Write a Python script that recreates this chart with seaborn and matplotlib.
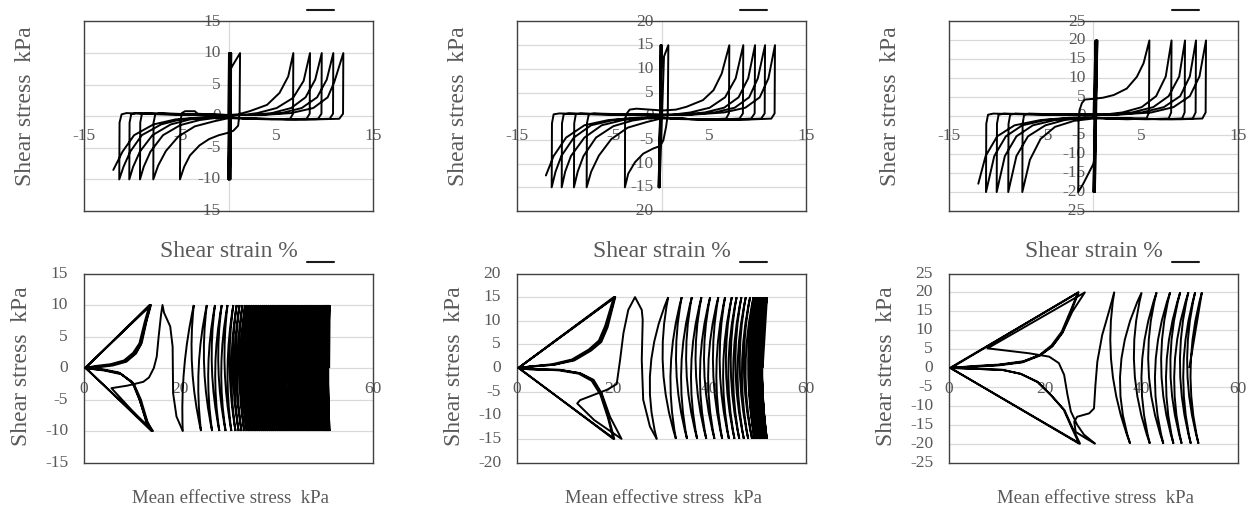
import matplotlib
matplotlib.use("Agg")
import matplotlib.pyplot as plt
import pandas as pd
import seaborn as sns
from matplotlib.path import Path
from matplotlib.patches import PathPatch
from matplotlib.lines import Line2D

# ---------------- values ----------------
amplitudes = [10, 15, 20]          # cyclic shear stress amplitude, kPa
stress_limits = [15, 20, 25]       # +/- range of the shear stress axis
strain_ticks = [-15, -5, 5, 15]
p_ticks = [0, 20, 40, 60]

# shear strain (%) vs shear stress (kPa), in loading order
loop_10 = [(0, 0), (0.05, 10), (0.0, -10), (0.1, 10), (0.02, -10), (0.15, 10), (0.05, -10), (0.2, 10),
           (0.1, -10), (0.25, 10), (0.15, -10), (0.28, 10), (0.2, -10), (0.22, 7.5),
           (1.2, 10), (1.15, 0.5), (1.0, -1.5), (0.5, -2.3), (0.0, -2.6), (-1.0, -3.0), (-2.0, -3.6),
           (-3.0, -4.6), (-4.0, -6.2), (-4.6, -8.0), (-5.04, -10),
           (-5.0, -1.0), (-4.85, 0.5), (-4.5, 0.8), (-3.5, 0.8), (-3.2, 0.4), (-2, 0.3), (0, 0.2), (1.0, 0.3),
           (2.2, 0.8), (4.0, 1.8), (5.3, 3.7), (6.2, 6.3), (6.73, 10),
           (6.7, 0.4), (6.4, -0.4), (4.5, -0.5), (2.0, -0.4), (0, -0.3), (-1.5, -0.8), (-3.5, -1.6),
           (-5.2, -3.2), (-6.5, -5.5), (-7.3, -7.8), (-7.81, -10),
           (-7.78, -1.0), (-7.6, 0.3), (-7.1, 0.5), (-4, 0.3), (-1, 0.2), (1.5, 0.2), (3.0, 0.5), (5.0, 1.3),
           (6.7, 2.9), (7.8, 5.6), (8.46, 10),
           (8.43, 0.4), (8.1, -0.4), (6, -0.5), (3, -0.4), (0, -0.2), (-1, -0.2), (-3, -0.6), (-5, -1.4),
           (-6.8, -3.0), (-8.1, -5.6), (-8.8, -8), (-9.19, -10),
           (-9.16, -1.0), (-9.0, 0.3), (-8.5, 0.5), (-5, 0.3), (0, 0.2), (2.5, 0.2), (4.5, 0.5), (6.5, 1.3),
           (8.0, 3.0), (9.0, 5.8), (9.68, 10),
           (9.65, 0.4), (9.3, -0.4), (7, -0.5), (3, -0.4), (0, -0.2), (-2, -0.2), (-4, -0.5), (-6, -1.3),
           (-7.9, -3.0), (-9.2, -5.6), (-9.9, -8), (-10.3, -10),
           (-10.27, -1.0), (-10.1, 0.3), (-9.6, 0.5), (-6, 0.3), (0, 0.2), (3.0, 0.2), (5.5, 0.5), (7.6, 1.3),
           (9.2, 3.0), (10.2, 5.8), (10.88, 10),
           (10.85, 0.4), (10.5, -0.4), (8, -0.5), (3, -0.4), (0, -0.2), (-2.5, -0.2), (-5, -0.5), (-7, -1.3),
           (-9, -3.0), (-10.2, -5.6), (-10.9, -8), (-11.34, -10),
           (-11.31, -1.0), (-11.1, 0.3), (-10.6, 0.5), (-7, 0.3), (0, 0.2), (3.5, 0.2), (6.5, 0.5), (8.8, 1.3),
           (10.3, 3.0), (11.0, 5.5), (11.92, 10),
           (11.89, 0.4), (11.5, -0.4), (9, -0.5), (3, -0.4), (0, -0.2), (-3, -0.2), (-5.5, -0.5), (-7.8, -1.3),
           (-9.8, -3.0), (-11.0, -5.6), (-11.96, -8.5)]

loop_15 = [(0, 0), (-0.1, 15), (-0.2, -15), (-0.05, 15), (-0.25, -15), (0.0, 15), (-0.3, -15), (0.02, 15),
           (-0.2, -15), (0.26, 12.6),
           (0.71, 15), (0.66, 2.0), (0.64, 0.2), (0.47, -2.3), (0.19, -5.1), (-0.15, -6.3), (-0.85, -6.8),
           (-1.9, -7.9), (-2.75, -9.7), (-3.45, -12.1), (-3.8, -15),
           (-3.78, -0.5), (-3.6, 0.6), (-3.3, 1.4), (-2.6, 1.6), (-0.5, 1.3), (0, 1.2), (1.5, 1.4), (2.6, 2.0),
           (4.3, 3.4), (5.4, 5.5), (6.25, 9.0), (7.04, 15),
           (7.0, 0.6), (6.7, -0.5), (4.5, -0.7), (2, -0.6), (0, -0.45), (-1.5, -1.2), (-3.5, -2.4),
           (-5.2, -4.8), (-6.5, -8.3), (-7.3, -11.7), (-7.77, -15),
           (-7.74, -1.5), (-7.55, 0.4), (-7.0, 0.6), (-4, 0.4), (-1, 0.3), (1.0, 0.3), (3.0, 0.8), (5.0, 1.8),
           (6.6, 4.0), (7.7, 8.0), (8.49, 15),
           (8.45, 0.6), (8.1, -0.5), (6, -0.7), (3, -0.6), (0, -0.3), (-1, -0.3), (-3.0, -0.9), (-5.0, -2.1),
           (-6.8, -4.5), (-8.1, -8.4), (-8.7, -11.7), (-9.09, -15),
           (-9.06, -1.5), (-8.9, 0.4), (-8.4, 0.6), (-5, 0.4), (0, 0.3), (2.0, 0.3), (4.5, 0.8), (6.5, 1.8),
           (8.0, 4.0), (9.0, 8.0), (9.71, 15),
           (9.67, 0.6), (9.3, -0.5), (7, -0.7), (3, -0.6), (0, -0.3), (-1.5, -0.3), (-4.0, -0.8), (-6.2, -1.9),
           (-8.0, -4.5), (-9.4, -8.4), (-10.0, -11.7), (-10.36, -15),
           (-10.33, -1.5), (-10.15, 0.4), (-9.6, 0.6), (-6, 0.4), (0, 0.3), (2.5, 0.3), (5.5, 0.8), (7.6, 1.8),
           (9.1, 4.0), (10.0, 8.0), (10.75, 15),
           (10.71, 0.6), (10.35, -0.5), (8, -0.7), (3, -0.6), (0, -0.3), (-2.0, -0.3), (-5.0, -0.8),
           (-7.3, -1.9), (-9.1, -4.5), (-10.4, -8.4), (-11.0, -11.7), (-11.4, -15),
           (-11.37, -1.5), (-11.2, 0.4), (-10.6, 0.6), (-7, 0.4), (0, 0.3), (3.0, 0.3), (6.5, 0.8), (8.7, 1.8),
           (10.2, 4.0), (11.1, 8.0), (11.78, 15),
           (11.74, 0.6), (11.4, -0.5), (9, -0.7), (3, -0.6), (0, -0.3), (-2.5, -0.3), (-5.5, -0.8),
           (-8.0, -1.9), (-9.9, -4.5), (-11.2, -8.4), (-12.0, -12.5)]

loop_20 = [(0, 0), (0.2, 20), (0.0, -20), (0.3, 20), (0.1, -20), (0.35, 20), (0.05, -20), (0.4, 20),
           (0.15, -20), (0.3, 20),
           (0.2, -8), (0.1, -11), (0, -12.5), (-0.5, -15), (-1.06, -17.8), (-1.58, -20),
           (-1.55, -1), (-1.45, 1.6), (-1.2, 3.5), (-0.9, 4.4), (0, 4.6), (1, 4.9), (2.1, 5.6), (3.45, 7.3),
           (4.5, 10.4), (5.2, 14), (5.8, 20),
           (5.76, 1.0), (5.5, -0.6), (3.5, -0.8), (1, -0.6), (0, -0.6), (-2.0, -1.2), (-4.0, -2.8),
           (-5.5, -6.0), (-6.6, -11.5), (-7.39, -20),
           (-7.36, -2), (-7.2, 0.4), (-6.7, 0.7), (-4, 0.5), (-1, 0.4), (1.0, 0.4), (3.0, 1.0), (5.0, 2.4),
           (6.5, 5.3), (7.5, 10.5), (8.1, 20),
           (8.06, 1.0), (7.8, -0.6), (5.5, -0.8), (2, -0.6), (0, -0.4), (-1, -0.4), (-3.0, -1.0), (-5.0, -2.4),
           (-6.8, -5.3), (-8.0, -10.5), (-8.85, -20),
           (-8.82, -2), (-8.65, 0.4), (-8.1, 0.7), (-5, 0.5), (0, 0.4), (1.5, 0.4), (4.0, 1.0), (6.2, 2.4),
           (7.8, 5.3), (8.9, 10.5), (9.5, 20),
           (9.46, 1.0), (9.2, -0.6), (7, -0.8), (3, -0.6), (0, -0.4), (-1.5, -0.4), (-4.0, -1.0), (-6.3, -2.4),
           (-8.0, -5.3), (-9.2, -10.5), (-10.05, -20),
           (-10.02, -2), (-9.85, 0.4), (-9.3, 0.7), (-6, 0.5), (0, 0.4), (2.0, 0.4), (5.0, 1.0), (7.3, 2.4),
           (9.0, 5.3), (10.0, 10.5), (10.64, 20),
           (10.6, 1.0), (10.3, -0.6), (8, -0.8), (3, -0.6), (0, -0.4), (-2, -0.4), (-5.0, -1.0), (-7.4, -2.4),
           (-9.1, -5.3), (-10.3, -10.5), (-11.16, -20),
           (-11.13, -2), (-10.95, 0.4), (-10.4, 0.7), (-7, 0.5), (0, 0.4), (2.5, 0.4), (6.0, 1.0), (8.3, 2.4),
           (10.0, 5.3), (11.0, 10.5), (11.68, 20),
           (11.64, 1.0), (11.3, -0.6), (9, -0.8), (3, -0.6), (0, -0.4), (-2.5, -0.4), (-5.5, -1.0),
           (-8.2, -2.4), (-10.0, -5.3), (-11.2, -10.5), (-11.96, -17.8)]

# mean effective stress paths: p' at the stress peaks (alternating +amp / -amp)
# and p' where each half cycle crosses zero shear stress
p_start_10 = 50.9
p_peak_10 = [51.0, 50.97, 50.92, 50.89, 50.84, 50.81, 50.76, 50.73, 50.68, 50.65, 50.6, 50.57,
             50.5, 50.47, 50.4, 50.37, 50.3, 50.27, 50.2, 50.17, 50.1, 50.07, 50.0, 49.95,
             49.85, 49.8, 49.7, 49.65, 49.55, 49.5, 49.4, 49.35, 49.25, 49.2, 49.1, 49.05, 48.95, 48.9,
             48.8, 48.73,
             48.6, 48.53, 48.4, 48.33, 48.2, 48.13, 48.0, 47.93, 47.8, 47.73, 47.6, 47.53, 47.4, 47.31,
             47.15, 47.06, 46.9, 46.81, 46.65, 46.56, 46.4, 46.31, 46.15, 46.06, 45.9, 45.8,
             45.6, 45.5, 45.3, 45.2, 45.0, 44.9, 44.7, 44.6, 44.4, 44.3, 44.1, 44.0, 43.8, 43.7,
             43.5, 43.4, 43.2, 43.08,
             42.85, 42.73, 42.5, 42.38, 42.15, 42.03, 41.8, 41.68, 41.45, 41.33, 41.1, 40.98,
             40.75, 40.63, 40.4, 40.26,
             40.0, 39.86, 39.6, 39.46, 39.2, 39.06, 38.8, 38.66, 38.4, 38.26, 38.0, 37.86,
             37.6, 37.46, 37.2, 37.04,
             36.75, 36.59, 36.3, 36.14, 35.85, 35.69, 35.4, 35.24, 34.95, 34.78,
             34.45, 34.28, 33.95, 33.78, 33.45, 33.26,
             32.9, 32.7, 32.3, 32.1, 31.7, 31.45, 31.0, 30.6,
             29.8, 29.4, 28.6, 28.1, 27.2, 26.6, 25.5, 24.3, 22.8, 20.5]
p_zero_10 = [50.69, 50.65, 50.61, 50.57, 50.53, 50.49, 50.45, 50.41, 50.37, 50.33, 50.29, 50.24,
             50.19, 50.14, 50.09, 50.04, 49.99, 49.94, 49.89, 49.84, 49.79, 49.74, 49.68, 49.6,
             49.53, 49.45, 49.38, 49.3, 49.23, 49.15, 49.08, 49.0, 48.93, 48.85, 48.78, 48.7,
             48.63, 48.55, 48.47, 48.37,
             48.12, 48.02, 47.92, 47.82, 47.72, 47.62, 47.52, 47.42, 47.32, 47.22, 47.12, 47.02,
             46.91, 46.78,
             46.51, 46.38, 46.26, 46.13, 46.01, 45.88, 45.76, 45.63, 45.51, 45.38, 45.25, 45.1,
             44.95, 44.8, 44.65, 44.5, 44.35, 44.2, 44.05, 43.9, 43.75, 43.6, 43.45, 43.3,
             43.15, 43.0, 42.85, 42.7, 42.54, 42.37,
             41.99, 41.82, 41.64, 41.47, 41.29, 41.12, 40.94, 40.77, 40.59, 40.42, 40.24, 40.07,
             39.89, 39.72, 39.53, 39.33,
             39.03, 38.83, 38.63, 38.43, 38.23, 38.03, 37.83, 37.63, 37.43, 37.23, 37.03, 36.83,
             36.63, 36.43, 36.22, 35.99,
             35.77, 35.54, 35.32, 35.1, 34.87, 34.65, 34.42, 34.2, 33.97, 33.72,
             33.47, 33.22, 32.97, 32.72, 32.46, 32.18,
             31.8, 31.5, 31.2, 30.9, 30.58, 30.23, 29.8, 29.2,
             28.5, 27.9, 27.25, 26.55, 25.8, 24.95, 23.8, 22.45, 20.8]
p_tail_10 = [(20.5, -10), (19.2, -7.7), (18.5, -4.0), (18.4, 3.4), (17.9, 6.6), (16.6, 8.8), (16.3, 10),
             (16.0, 8.5), (15.5, 5.0), (15.1, 1.8), (14.5, 0.0), (13.5, -1.5), (12.3, -2.2), (9.0, -2.8),
             (5.7, -3.2), (9.8, -6.6), (14.2, -10),
             (13.0, -8.8), (11.6, -5.1), (10.2, -2.4), (7.5, -0.85), (4.0, -0.3), (1.0, -0.1), (0.3, 0.0),
             (13.8, 10), (12.8, 7.1), (11.7, 3.6), (10.5, 2.2), (8.6, 1.1), (5.8, 0.5), (2.5, 0.2), (0.4, 0.0),
             (14.0, -10), (13.2, -8.6), (11.8, -5.0), (10.4, -2.6), (7.8, -1.0), (4.2, -0.4), (1.2, -0.1),
             (0.4, 0.1),
             (13.6, 10), (12.6, 7.3), (11.5, 3.9), (10.2, 2.4), (8.3, 1.2), (5.5, 0.6), (2.2, 0.3), (0.3, 0.0),
             (14.3, -10), (13.0, -8.4), (11.4, -4.8), (10.0, -2.2), (7.2, -0.7), (3.8, -0.2), (0.8, 0.0),
             (0.2, 0.0),
             (13.9, 10), (13.0, 7.5), (12.0, 4.0), (10.8, 2.3), (8.8, 1.0), (6.0, 0.4), (2.8, 0.1), (0.5, -0.1)]

p_start_15 = 51.0
p_peak_15 = [51.9, 51.88, 51.85, 51.83, 51.8, 51.75, 51.7, 51.65, 51.6, 51.55, 51.5, 51.43, 51.35, 51.28,
             51.2, 51.1, 51.0, 50.9, 50.8, 50.7, 50.6, 50.5, 50.4, 50.27, 50.1, 49.97, 49.8, 49.64,
             49.45, 49.29, 49.1, 48.8, 48.4, 48.0, 47.5, 47.1, 46.6, 46.15, 45.6, 45.15, 44.6, 44.0,
             43.2, 42.6, 41.8, 41.0, 40.1, 39.3, 38.3, 37.4, 36.3, 35.3, 34.2, 33.0, 31.4, 29.0]
p_zero_15 = [50.89, 50.87, 50.84, 50.82, 50.78, 50.73, 50.68, 50.63, 50.58, 50.53, 50.47, 50.39,
             50.32, 50.24, 50.15, 50.05, 49.75, 49.65, 49.55, 49.45, 49.35, 49.25, 49.14, 48.99,
             48.84, 48.69, 48.52, 48.35, 48.17, 47.99, 47.45, 47.1, 46.7, 46.25, 45.8, 45.35,
             44.88, 44.38, 43.88, 43.38, 42.8, 42.1, 41.4, 40.7, 39.7, 38.85, 38.0, 37.1, 36.15,
             35.15, 34.1, 33.05, 31.9, 30.3, 27.7]
p_tail_15 = [(29.0, -15), (27.6, -12.4), (26.2, -6.7), (25.9, 1.7), (26.1, 10.2), (25.9, 12.3), (24.5, 15),
             (23.1, 12.3), (22.1, 7.4), (21.4, 1.7), (20.7, -3.4), (18.7, -4.6), (13.1, -6.8), (12.5, -7.5),
             (16.0, -11.0), (21.7, -15),
             (19.3, -10.3), (17.6, -5.4), (15.9, -2.5), (13.1, -1.1), (9.0, -0.4), (2.7, -0.3), (0.3, 0.0),
             (20.3, 15), (18.6, 8.7), (17.3, 5.6), (15.2, 3.8), (11.7, 1.7), (7.6, 0.7), (2.7, 0.3), (0.4, 0.0),
             (20.0, -15), (18.9, -10.6), (17.3, -5.6), (15.5, -2.7), (12.8, -1.2), (8.7, -0.5), (2.5, -0.2),
             (0.4, 0.1),
             (20.1, 15), (18.3, 8.9), (17.0, 5.8), (14.9, 3.9), (11.4, 1.8), (7.3, 0.8), (2.5, 0.3), (0.3, 0.0),
             (20.2, -15), (19.0, -10.4), (17.5, -5.5), (15.7, -2.6), (13.0, -1.1), (8.8, -0.4), (2.6, -0.2),
             (0.3, 0.0),
             (20.4, 15), (18.8, 8.6), (17.5, 5.5), (15.4, 3.7), (11.9, 1.6), (7.8, 0.7), (3.0, 0.3), (0.5, 0.0)]

p_start_20 = 49.9
p_peak_20 = [52.5, 51.8, 51.1, 50.2, 49.7, 48.3, 48.0, 46.6, 45.9, 44.5, 43.1, 41.7, 40.0, 37.6, 34.3]
p_zero_20 = [50.15, 49.45, 48.65, 47.95, 46.8, 45.95, 45.1, 44.05, 42.8, 41.4, 40.0, 38.45, 35.6, 33.8]
p_tail_20 = [(34.3, 20), (33.2, 14.9), (31.8, 8.7), (30.8, 1.7), (30.4, -4.5), (30.1, -10.7), (29.1, -12.0),
             (26.6, -12.9), (26.0, -14.2), (26.3, -16.9), (28.4, -18.6), (30.3, -20),
             (28.0, -17.6), (26.6, -15.0), (25.3, -11.5), (24.6, -7.1), (23.9, -1.8), (22.8, 1.3), (20.8, 3.0),
             (16.6, 3.9), (8.0, 5.2), (28.2, 20),
             (25.6, 14.9), (23.6, 9.4), (21.5, 5.8), (19.0, 3.5), (15.5, 1.8), (10.4, 0.9), (5.0, 0.5), (0.3, 0.0),
             (27.2, -20), (25.4, -15.2), (24.0, -11.2), (21.4, -7.5), (18.5, -3.8), (15.0, -1.6), (11.2, -0.5),
             (5.0, -0.2), (0.4, 0.0),
             (26.8, 20), (25.2, 15.0), (23.4, 9.6), (21.3, 6.0), (18.8, 3.4), (15.2, 1.6), (10.2, 0.8),
             (5.0, 0.4), (0.3, 0.0),
             (27.0, -20), (25.2, -15.0), (23.8, -11.0), (21.2, -7.2), (18.3, -3.6), (14.8, -1.5), (11.0, -0.5),
             (5.0, -0.2), (0.3, 0.1),
             (26.9, 20), (25.3, 14.8), (23.5, 9.3), (21.4, 5.7), (18.9, 3.3), (15.3, 1.5), (10.3, 0.7),
             (5.2, 0.3), (0.5, 0.0)]

strain_loops = [loop_10, loop_15, loop_20]
p_paths = [(p_start_10, p_peak_10, p_zero_10, p_tail_10),
           (p_start_15, p_peak_15, p_zero_15, p_tail_15),
           (p_start_20, p_peak_20, p_zero_20, p_tail_20)]

# ---------------- style ----------------
sns.set_theme(style="white")
plt.rcParams["font.family"] = ["Liberation Serif", "DejaVu Serif"]

W, H = 1253, 511
TXT = "#595959"
GRID = "#d9d9d9"
FRAME = "#404040"
LW = 1.4
TICK_FS = 12.5

fig = plt.figure(figsize=(W / 100, H / 100), dpi=100)
fig.patch.set_facecolor("white")

col_left = [84, 517, 949]
ax_w = 289
top_rows = (21.5, 211)
bot_rows = (273.5, 462.5)


def add_ax(left, top, bottom):
    return fig.add_axes([left / W, 1 - bottom / H, ax_w / W, (bottom - top) / H])


def frame(ax):
    ax.set_xticks([])
    ax.set_yticks([])
    ax.set_xlabel("")
    ax.set_ylabel("")
    for s in ax.spines.values():
        s.set_visible(True)
        s.set_color(FRAME)
        s.set_linewidth(1.0)


def draw_line(ax, pts):
    df = pd.DataFrame(pts, columns=["x", "y"])
    sns.lineplot(data=df, x="x", y="y", sort=False, estimator=None, color="black",
                 lw=LW, ax=ax, zorder=3)


def p_path(start, peaks, zeros, amp):
    # each half cycle is a quadratic curve from one stress peak to the next,
    # passing through its zero-stress crossing at the midpoint
    verts = [(start, 0.0), (peaks[0], amp)]
    codes = [Path.MOVETO, Path.LINETO]
    sign = 1
    for k in range(min(len(zeros), len(peaks) - 1)):
        x0, x1 = peaks[k], peaks[k + 1]
        verts += [(2 * zeros[k] - (x0 + x1) / 2, 0.0), (x1, -sign * amp)]
        codes += [Path.CURVE3, Path.CURVE3]
        sign = -sign
    return Path(verts, codes)


def dash(x0, x1, y):
    fig.add_artist(Line2D([x0 / W, x1 / W], [1 - y / H, 1 - y / H], transform=fig.transFigure,
                          color="#1a1a1a", lw=1.5))


for i in range(3):
    amp = amplitudes[i]
    lim = stress_limits[i]
    left = col_left[i]
    cx = left + ax_w / 2

    # ---- shear strain vs shear stress ----
    ax = add_ax(left, *top_rows)
    ax.set_xlim(-15, 15)
    ax.set_ylim(-lim, lim)
    for v in range(-lim + 5, lim, 5):
        ax.axhline(v, color=GRID, lw=0.9, zorder=0.5)
    ax.axvline(0, color=GRID, lw=0.9, zorder=0.5)
    draw_line(ax, strain_loops[i])
    frame(ax)
    for v in range(-lim, lim + 1, 5):
        ax.annotate(str(v), xy=(0, v), xytext=(-5.5, 0), textcoords="offset points",
                    ha="right", va="center", fontsize=TICK_FS, color=TXT, zorder=1,
                    annotation_clip=False)
    for v in strain_ticks:
        ax.annotate(str(v), xy=(v, 0), xytext=(0, -14.5), textcoords="offset points",
                    ha="center", va="center", fontsize=TICK_FS, color=TXT, zorder=1,
                    annotation_clip=False)
    fig.text((left - 58) / W, 1 - 106 / H, "Shear stress  kPa", rotation=90, ha="center",
             va="center", fontsize=17, color=TXT)
    fig.text(cx / W, 1 - 257 / H, "Shear strain %", ha="center", va="baseline",
             fontsize=17, color=TXT)

    # ---- mean effective stress vs shear stress ----
    ax = add_ax(left, *bot_rows)
    ax.set_xlim(0, 60)
    ax.set_ylim(-lim, lim)
    for v in range(-lim + 5, lim, 5):
        ax.axhline(v, color=GRID, lw=0.9, zorder=0.5)
    start, peaks, zeros, tail = p_paths[i]
    ax.add_patch(PathPatch(p_path(start, peaks, zeros, amp), facecolor="none",
                           edgecolor="black", lw=LW, zorder=3))
    draw_line(ax, tail)
    ax.set_xlim(0, 60)
    ax.set_ylim(-lim, lim)
    frame(ax)
    for v in range(-lim, lim + 1, 5):
        ax.annotate(str(v), xy=(0, v), xytext=(-11.5, 0), textcoords="offset points",
                    ha="right", va="center", fontsize=TICK_FS, color=TXT, zorder=1,
                    annotation_clip=False)
    for v in p_ticks:
        ax.annotate(str(v), xy=(v, 0), xytext=(0, -15), textcoords="offset points",
                    ha="center", va="center", fontsize=TICK_FS, color=TXT, zorder=1,
                    annotation_clip=False)
    fig.text((left - 62) / W, 1 - 366 / H, "Shear stress  kPa", rotation=90, ha="center",
             va="center", fontsize=17, color=TXT)
    fig.text((cx + 2) / W, 1 - 503 / H, "Mean effective stress  kPa", ha="center",
             va="baseline", fontsize=13.5, color=TXT)

    # short marks above each column
    dash(left + 223, left + 250, 10)
    dash(left + 223, left + 250, 262)

fig.savefig("out.png", dpi=100, facecolor="white")
